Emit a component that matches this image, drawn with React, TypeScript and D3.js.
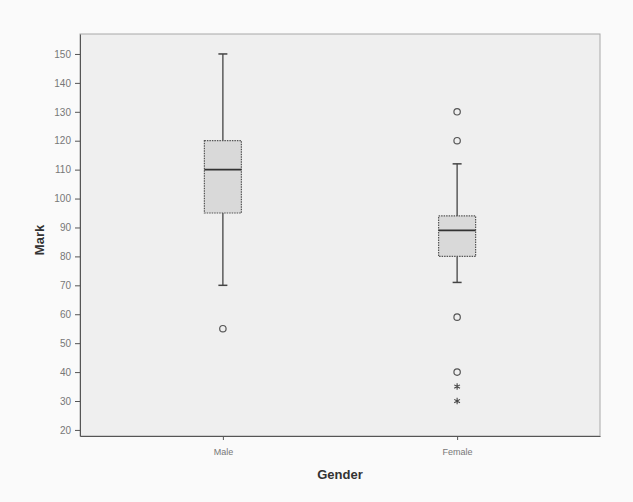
import React, { useRef, useEffect } from 'react';
import * as d3 from 'd3';

const groups = ['Male', 'Female'];
const q1 = [95, 80];
const medians = [110, 89];
const q3 = [120, 94];
const whiskerLow = [70, 71];
const whiskerHigh = [150, 112];
const outliersMale = [55];
const outliersFemale = [130, 120, 59, 40];
const extremesFemale = [35, 30];
const yTicks = [20, 30, 40, 50, 60, 70, 80, 90, 100, 110, 120, 130, 140, 150];

function BoxPlot() {
  const svgRef = useRef<SVGSVGElement>(null);

  useEffect(() => {
    const width = 633;
    const height = 502;
    const left = 80, right = 600, top = 34, bottom = 436;

    const svg = d3.select(svgRef.current)
      .attr('width', width)
      .attr('height', height)
      .style('background-color', '#fafafa');
    svg.selectAll('*').remove();

    const x = d3.scalePoint<string>().domain(groups).range([left, right]).padding(0.61);
    const y = d3.scaleLinear().domain([17.9, 156.9]).range([bottom, top]);

    // plot area
    svg.append('rect')
      .attr('x', left).attr('y', top)
      .attr('width', right - left).attr('height', bottom - top)
      .attr('fill', '#efefef')
      .attr('stroke', '#a8a8a8')
      .attr('stroke-width', 1);

    // y axis
    const yAxis = svg.append('g')
      .attr('transform', `translate(${left},0)`)
      .call(d3.axisLeft(y).tickValues(yTicks).tickSize(5).tickSizeOuter(0).tickPadding(4));
    yAxis.select('.domain').attr('stroke', '#555');
    yAxis.selectAll('.tick line').attr('stroke', '#555');
    yAxis.selectAll('.tick text')
      .attr('fill', '#777')
      .style('font-family', 'Arial, "Liberation Sans", sans-serif')
      .style('font-size', '10px');

    // x axis
    const xAxis = svg.append('g')
      .attr('transform', `translate(0,${bottom})`)
      .call(d3.axisBottom(x).tickSize(4).tickSizeOuter(0).tickPadding(9));
    xAxis.select('.domain').attr('stroke', '#555');
    xAxis.selectAll('.tick line').attr('stroke', '#555');
    xAxis.selectAll('.tick text')
      .attr('fill', '#777')
      .style('font-family', 'Arial, "Liberation Sans", sans-serif')
      .style('font-size', '9px');

    // axis titles
    svg.append('text')
      .attr('x', (left + right) / 2)
      .attr('y', 479)
      .attr('text-anchor', 'middle')
      .style('font-family', 'Arial, "Liberation Sans", sans-serif')
      .style('font-weight', 'bold')
      .style('font-size', '13px')
      .attr('fill', '#333')
      .text('Gender');

    svg.append('text')
      .attr('transform', `translate(44,240) rotate(-90)`)
      .attr('text-anchor', 'middle')
      .style('font-family', 'Arial, "Liberation Sans", sans-serif')
      .style('font-weight', 'bold')
      .style('font-size', '13px')
      .attr('fill', '#333')
      .text('Mark');

    const boxW = 37;
    const capW = 9;
    const stroke = '#444';

    groups.forEach((g, i) => {
      const cx = x(g) as number;
      const gEl = svg.append('g');

      // whiskers
      gEl.append('line')
        .attr('x1', cx).attr('x2', cx)
        .attr('y1', y(whiskerHigh[i])).attr('y2', y(q3[i]))
        .attr('stroke', stroke).attr('stroke-width', 1.3);
      gEl.append('line')
        .attr('x1', cx).attr('x2', cx)
        .attr('y1', y(q1[i])).attr('y2', y(whiskerLow[i]))
        .attr('stroke', stroke).attr('stroke-width', 1.3);
      [whiskerHigh[i], whiskerLow[i]].forEach(v => {
        gEl.append('line')
          .attr('x1', cx - capW / 2).attr('x2', cx + capW / 2)
          .attr('y1', y(v)).attr('y2', y(v))
          .attr('stroke', stroke).attr('stroke-width', 1.5);
      });

      // box
      gEl.append('rect')
        .attr('x', cx - boxW / 2)
        .attr('y', y(q3[i]))
        .attr('width', boxW)
        .attr('height', y(q1[i]) - y(q3[i]))
        .attr('fill', '#d9d9d9')
        .attr('stroke', '#555')
        .attr('stroke-width', 1.2)
        .attr('stroke-dasharray', '1.5,1');

      // median
      gEl.append('line')
        .attr('x1', cx - boxW / 2).attr('x2', cx + boxW / 2)
        .attr('y1', y(medians[i])).attr('y2', y(medians[i]))
        .attr('stroke', '#333').attr('stroke-width', 1.8);
    });

    const outliers = [outliersMale, outliersFemale];
    groups.forEach((g, i) => {
      const cx = x(g) as number;
      svg.selectAll(null)
        .data(outliers[i])
        .enter()
        .append('circle')
        .attr('cx', cx)
        .attr('cy', d => y(d))
        .attr('r', 3.2)
        .attr('fill', 'none')
        .attr('stroke', '#555')
        .attr('stroke-width', 1.2);
    });

    const star = d3.symbol().type(d3.symbolAsterisk).size(30);
    svg.selectAll(null)
      .data(extremesFemale)
      .enter()
      .append('path')
      .attr('d', star)
      .attr('transform', d => `translate(${x('Female')},${y(d)})`)
      .attr('fill', 'none')
      .attr('stroke', '#444')
      .attr('stroke-width', 1.1);
  }, []);

  return <svg ref={svgRef}></svg>;
}

export default function App() {
  return (
    <div style={{ position: 'absolute', left: 0, top: 0 }}>
      <BoxPlot />
    </div>
  );
}
